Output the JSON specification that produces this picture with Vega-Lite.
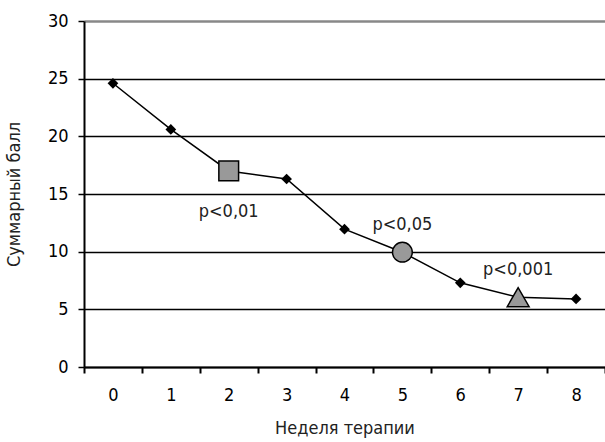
{
  "$schema": "https://vega.github.io/schema/vega-lite/v6.json",
  "width": 521,
  "height": 346,
  "autosize": "none",
  "padding": {"left": 84, "top": 21, "right": 0, "bottom": 75},
  "background": "white",
  "config": {
    "view": {"stroke": null},
    "font": "'DejaVu Sans Condensed', Roboto, sans-serif",
    "axis": {"labelFont": "'DejaVu Sans Condensed', Roboto, sans-serif", "titleFont": "'DejaVu Sans Condensed', Roboto, sans-serif", "labelColor": "black", "titleColor": "#222", "titleFontWeight": "normal"}
  },
  "data": {
    "values": [
      {"week": "0", "score": 24.6, "kind": "plain", "label": ""},
      {"week": "1", "score": 20.6, "kind": "plain", "label": ""},
      {"week": "2", "score": 17.0, "kind": "square", "label": "p<0,01"},
      {"week": "3", "score": 16.3, "kind": "plain", "label": ""},
      {"week": "4", "score": 11.95, "kind": "plain", "label": ""},
      {"week": "5", "score": 9.95, "kind": "circle", "label": "p<0,05"},
      {"week": "6", "score": 7.3, "kind": "plain", "label": ""},
      {"week": "7", "score": 6.05, "kind": "triangle-up", "label": "p<0,001"},
      {"week": "8", "score": 5.9, "kind": "plain", "label": ""}
    ]
  },
  "encoding": {
    "x": {
      "field": "week", "type": "ordinal", "sort": null,
      "scale": {"type": "band", "paddingInner": 0, "paddingOuter": 0},
      "axis": {
        "title": "Неделя терапии", "labelAngle": 0, "tickBand": "extent",
        "domainColor": "black", "domainWidth": 2, "tickColor": "black", "tickWidth": 2, "tickSize": 6,
        "labelFontSize": 18, "labelPadding": 13, "titleFontSize": 18, "titlePadding": 15, "grid": false
      }
    },
    "y": {
      "field": "score", "type": "quantitative",
      "scale": {"domain": [0, 30]},
      "axis": {
        "title": "Суммарный балл", "values": [0, 5, 10, 15, 20, 25, 30],
        "domainColor": "black", "domainWidth": 2, "tickColor": "black", "tickWidth": 1.5, "tickSize": 6,
        "labelFontSize": 18, "labelPadding": 10, "titleFontSize": 18, "titlePadding": 24,
        "grid": true,
        "gridColor": {"condition": {"test": "datum.value == 30", "value": "#888888"}, "value": "black"},
        "gridWidth": {"condition": {"test": "datum.value == 30", "value": 2.5}, "value": 1.5}
      }
    }
  },
  "layer": [
    {"mark": {"type": "line", "color": "black", "strokeWidth": 1.5}},
    {
      "transform": [{"filter": "datum.kind == 'plain'"}],
      "mark": {"type": "point", "shape": "diamond", "filled": true, "color": "black", "size": 115, "opacity": 1}
    },
    {
      "transform": [{"filter": "datum.kind == 'square' || datum.kind == 'circle'"}],
      "mark": {"type": "point", "filled": true, "fill": "#999999", "stroke": "black", "strokeWidth": 1.5, "size": 390, "opacity": 1},
      "encoding": {
        "shape": {"field": "kind", "type": "nominal", "scale": {"domain": ["square", "circle", "triangle-up"], "range": ["square", "circle", "triangle-up"]}, "legend": null}
      }
    },
    {
      "transform": [{"filter": "datum.kind == 'triangle-up'"}],
      "mark": {"type": "point", "shape": "triangle-up", "filled": true, "fill": "#999999", "stroke": "black", "strokeWidth": 1.5, "size": 480, "opacity": 1}
    },
    {
      "transform": [{"filter": "datum.kind == 'square'"}],
      "mark": {"type": "text", "fontSize": 18, "color": "#222", "dy": 41},
      "encoding": {"text": {"field": "label"}}
    },
    {
      "transform": [{"filter": "datum.kind == 'circle' || datum.kind == 'triangle-up'"}],
      "mark": {"type": "text", "fontSize": 18, "color": "#222", "dy": -27},
      "encoding": {"text": {"field": "label"}}
    }
  ]
}
